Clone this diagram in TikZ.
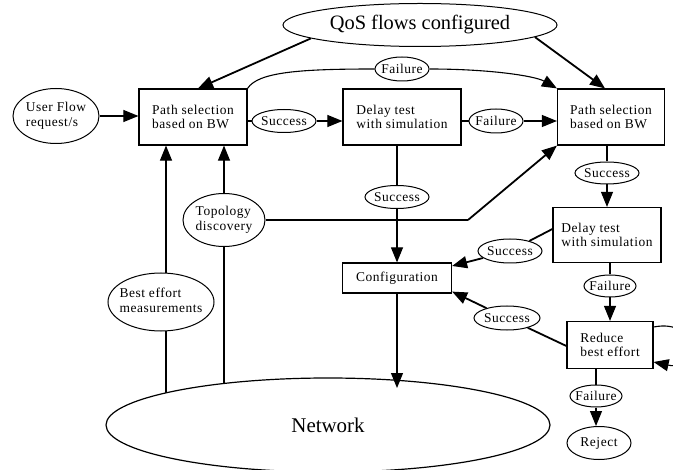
\documentclass[tikz,border=0pt]{standalone}
\usepackage{fontspec}
\setmainfont{Liberation Serif}
\newfontfamily\lblfont{Liberation Serif}[LetterSpace=4]
\usetikzlibrary{shapes.geometric,arrows.meta,calc}
\pgfdeclarelayer{bg}
\pgfdeclarelayer{fg}
\pgfsetlayers{bg,main,fg}
\begin{document}
\begin{tikzpicture}[x=1bp,y=-1bp,
  lbl/.style={font=\lblfont\fontsize{13.5}{14.5}\selectfont},
  box/.style={draw, line width=1.2bp, fill=white, align=left, inner sep=0, lbl},
  oval/.style={draw, ellipse, line width=1bp, fill=white, inner sep=0, lbl},
  ln/.style={line width=1.1bp},
  tln/.style={line width=1.8bp},
  arr/.style={line width=1.1bp, -{Triangle[length=15bp,width=12bp]}},
  tarr/.style={line width=1.8bp, -{Triangle[length=15bp,width=12bp]}}]
\path[use as bounding box] (0,0) rectangle (673,470);
\clip (0,0) rectangle (673,470);

% nodes
\node[oval, minimum width=274bp, minimum height=43bp, font=\fontsize{20.5}{22}\selectfont] (qos) at (420,25) {\makebox[0pt]{QoS flows configured}};
\node[oval, minimum width=86bp, minimum height=55bp] (user) at (56,116) {\makebox[0pt]{\begin{tabular}{@{}l@{}}User Flow\\request/s\end{tabular}}};
\node[box, minimum width=108bp, minimum height=56bp] (ps1) at (193,117) {Path selection\\based on BW};
\node[oval, minimum width=64bp, minimum height=23bp] (s1) at (284,121) {\makebox[0pt]{Success}};
\node[box, minimum width=118bp, minimum height=56bp] (dt1) at (402,117) {Delay test\\with simulation};
\node[oval, minimum width=54bp, minimum height=24bp] (f1) at (496,121) {\makebox[0pt]{Failure}};
\node[box, minimum width=107bp, minimum height=56bp] (ps2) at (611,117) {Path selection\\based on BW};
\node[oval, minimum width=54bp, minimum height=24bp] (f0) at (402,69) {\makebox[0pt]{Failure}};
\node[oval, minimum width=64bp, minimum height=23bp] (s2) at (397,197) {\makebox[0pt]{Success}};
\node[oval, minimum width=82bp, minimum height=53bp] (topo) at (224,220) {\makebox[0pt]{\begin{tabular}{@{}l@{}}Topology\\discovery\end{tabular}}};
\node[oval, minimum width=106bp, minimum height=58bp] (best) at (161,302) {\makebox[0pt]{\begin{tabular}{@{}l@{}}Best effort\\measurements\end{tabular}}};
\node[box, minimum width=109bp, minimum height=30bp] (conf) at (397,278) {Configuration};
\node[draw, ellipse, fill=white, line width=1.2bp, inner sep=0, minimum width=444bp, minimum height=94bp, font=\fontsize{21}{23}\selectfont] (net) at (328,425) {\makebox[0pt]{Network}};
\node[oval, minimum width=64bp, minimum height=22bp] (s3) at (607,173) {\makebox[0pt]{Success}};
\node[box, minimum width=108bp, minimum height=55bp] (dt2) at (607,235) {Delay test\\with simulation};
\node[oval, minimum width=64bp, minimum height=24bp] (s4) at (510,251) {\makebox[0pt]{Success}};
\node[oval, minimum width=52bp, minimum height=22bp] (f2) at (610,286) {\makebox[0pt]{Failure}};
\node[box, minimum width=86bp, minimum height=47bp] (red) at (610,345) {Reduce\\best effort};
\node[oval, minimum width=66bp, minimum height=24bp] (s5) at (507,318) {\makebox[0pt]{Success}};
\node[oval, minimum width=52bp, minimum height=22bp] (f3) at (596,396) {\makebox[0pt]{Failure}};
\node[oval, minimum width=64bp, minimum height=33bp] (rej) at (599,443) {\makebox[0pt]{Reject}};

\coordinate (tbend) at (468,220);
\coordinate (netin) at (397,388);
\coordinate (bx) at (166,0);

\begin{pgfonlayer}{bg}
\draw[arr] (user) -- (ps1.west |- user);
\draw[tarr] (qos.187) -- ([xshift=5bp]ps1.north);
\draw[tarr] (qos.-6) -- ([xshift=-6bp]ps2.north);
\draw[ln] (ps1.east |- s1) -- (s1);
\draw[arr] (s1) -- (dt1.west |- s1);
\draw[ln] (dt1.east |- f1) -- (f1);
\draw[arr] (f1) -- (ps2.west |- f1);
\draw[ln] (ps1.north east) .. controls (258,72) and (300,69) .. (f0.west);
\draw[arr] (f0.east) .. controls (490,69) and (535,76) .. (ps2.north west);
\draw[ln] (dt1.south -| s2) -- (s2);
\draw[arr] (s2) -- (conf);
\draw[arr] (topo.north) -- (topo.north |- ps1.south);
\draw[ln] (topo.east) -- (tbend);
\draw[tarr] (tbend) -- (ps2.south west);
\draw[ln] (topo.south) -- (topo.south |- net.center);
\draw[arr] (bx |- net.center) -- (bx |- ps1.south);
\draw[ln] (ps2.south -| s3) -- (s3);
\draw[arr] (s3) -- (dt2);
\draw[tln] ([yshift=6bp]dt2.west) -- (s4);
\draw[tarr] (s4) -- ([yshift=12bp]conf.east);
\draw[ln] (dt2.south -| f2) -- (f2);
\draw[arr] (f2) -- (red);
\draw[tln] ([yshift=-1bp]red.west) -- (s5);
\draw[tarr] (s5) -- ([yshift=2bp]conf.south east);
\draw[arr] ([yshift=18bp]red.east) .. controls (700,318) and (700,372) .. ([yshift=-17bp]red.east);
\draw[ln] (red.south -| f3) -- (f3);
\draw[arr] (f3) -- (f3 |- rej.north);
\end{pgfonlayer}
\begin{pgfonlayer}{fg}
\draw[arr] (conf.south) -- (netin);
\end{pgfonlayer}
\end{tikzpicture}
\end{document}
